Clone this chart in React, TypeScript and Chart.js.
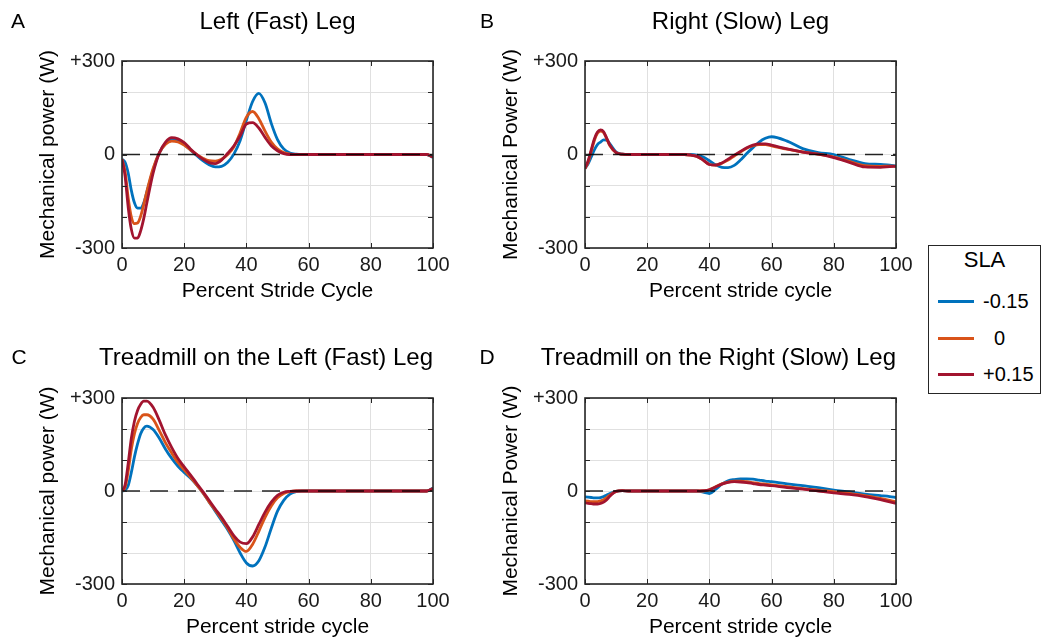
import React, { useEffect, useRef } from 'react';
import { Chart, registerables } from 'chart.js';

Chart.register(...registerables);

const FONT = '"Liberation Sans", Arial, Helvetica, sans-serif';

// Percent stride cycle sample positions
const STRIDE = [0, 1, 2, 3, 4, 5, 6, 7, 8, 10, 12, 14, 16, 18, 20, 22, 24, 26, 28, 30, 32, 34, 36, 38, 40, 42, 44, 46, 48, 50, 52, 54, 56, 58, 60, 65, 70, 75, 80, 85, 90, 95, 98, 100];

const SLA_LABELS = ['-0.15', '  0', '+0.15'];
const SLA_COLORS = ['#0072BD', '#D95319', '#A2142F'];

const X_TICKS = [0, 20, 40, 60, 80, 100];
const Y_TICKS = [-300, -200, -100, 0, 100, 200, 300];
const Y_TICK_LABELS = ['-300', '', '', '0', '', '', '+300'];
const ZERO_X = [0, 100];
const ZERO_Y = [0, 0];

// A: Left (Fast) Leg
const A_NEG = [-15, -25, -60, -115, -155, -172, -172, -155, -120, -50, 5, 35, 46, 44, 32, 15, -3, -20, -33, -40, -38, -25, 2, 45, 110, 170, 196, 165, 100, 48, 18, 5, 1, 0, 0, 0, 0, 0, 0, 0, 0, 0, 0, -10];
const A_ZERO = [-15, -55, -140, -200, -222, -220, -198, -160, -118, -45, 5, 33, 43, 40, 30, 15, 0, -12, -20, -21, -15, 0, 25, 70, 120, 138, 115, 75, 40, 18, 6, 1, 0, 0, 0, 0, 0, 0, 0, 0, 0, 0, 0, -8];
const A_POS = [-15, -70, -170, -240, -268, -268, -245, -205, -155, -60, 5, 40, 54, 50, 38, 18, 0, -15, -26, -29, -18, 4, 28, 60, 98, 102, 85, 55, 28, 12, 3, 0, 0, 0, 0, 0, 0, 0, 0, 0, 0, 0, 0, -8];

// B: Right (Slow) Leg
const B_NEG = [-45, -30, -8, 15, 32, 40, 47, 46, 34, 8, 1, 0, 0, 0, 0, 0, 0, 0, 0, 0, 0, 0, -2, -8, -20, -33, -41, -42, -35, -18, 3, 22, 40, 52, 57, 43, 19, 6, 0, -16, -29, -32, -34, -37];
const B_ZERO = [-45, -25, 10, 45, 68, 75, 70, 50, 28, 6, 1, 0, 0, 0, 0, 0, 0, 0, 0, 0, 0, -2, -6, -18, -32, -34, -28, -18, -5, 8, 20, 28, 32, 32, 28, 17, 8, 1, -8, -22, -36, -38, -37, -38];
const B_POS = [-45, -20, 15, 50, 72, 79, 73, 52, 30, 6, 1, 0, 0, 0, 0, 0, 0, 0, 0, 0, 0, -2, -6, -18, -32, -34, -27, -15, -2, 10, 22, 30, 34, 34, 30, 18, 8, 1, -10, -25, -40, -41, -39, -38];

// C: Treadmill on the Left (Fast) Leg
const C_NEG = [0, 3, 18, 60, 110, 152, 185, 203, 209, 198, 170, 135, 105, 80, 60, 42, 20, -5, -35, -65, -95, -125, -160, -200, -232, -242, -225, -180, -120, -65, -30, -10, -2, 0, 0, 0, 0, 0, 0, 0, 0, 0, 0, 10];
const C_ZERO = [0, 12, 65, 135, 185, 218, 237, 246, 246, 232, 195, 155, 122, 92, 68, 45, 20, -5, -35, -62, -90, -120, -155, -182, -195, -172, -130, -85, -48, -22, -8, -2, 0, 0, 0, 0, 0, 0, 0, 0, 0, 0, 0, 8];
const C_POS = [0, 20, 90, 170, 225, 260, 280, 290, 290, 270, 228, 180, 140, 105, 78, 52, 25, -2, -30, -58, -85, -115, -145, -165, -170, -148, -108, -68, -36, -14, -4, -1, 0, 0, 0, 0, 0, 0, 0, 0, 0, 0, 0, 8];

// D: Treadmill on the Right (Slow) Leg
const D_NEG = [-19, -20, -21, -22, -22, -21, -18, -13, -8, -1, 1, 0, 0, 0, 0, 0, 0, 0, 0, 0, 0, 0, 0, -4, -8, 5, 22, 33, 37, 39, 39, 38, 35, 32, 30, 23, 17, 11, 3, -3, -10, -15, -18, -21];
const D_ZERO = [-32, -33, -34, -34, -34, -32, -28, -21, -13, -1, 1, 0, 0, 0, 0, 0, 0, 0, 0, 0, 0, 0, 0, 0, 4, 14, 23, 29, 32, 32, 30, 27, 24, 22, 20, 14, 8, 3, -2, -8, -15, -24, -30, -35];
const D_POS = [-38, -40, -41, -42, -42, -40, -36, -28, -17, -1, 1, 0, 0, 0, 0, 0, 0, 0, 0, 0, 0, 0, 0, 1, 4, 13, 22, 28, 30, 29, 27, 24, 21, 19, 17, 11, 6, 0, -6, -11, -18, -28, -35, -40];

type PanelCfg = {
  letter: string;
  title: string;
  yTitle: string;
  xTitle: string;
  series: number[][];
  left: number;
  top: number;
  plotBottom: number;
  titleY: number;
  letterX: number;
  titleAlign: 'center' | 'end';
};

const PANELS: PanelCfg[] = [
  { letter: 'A', title: 'Left (Fast) Leg', yTitle: 'Mechanical power (W)', xTitle: 'Percent Stride Cycle', series: [A_NEG, A_ZERO, A_POS], left: 0, top: 0, plotBottom: 248, titleY: 22.5, letterX: 18, titleAlign: 'center' },
  { letter: 'B', title: 'Right (Slow) Leg', yTitle: 'Mechanical Power (W)', xTitle: 'Percent stride cycle', series: [B_NEG, B_ZERO, B_POS], left: 463, top: 0, plotBottom: 248, titleY: 22.5, letterX: 24, titleAlign: 'center' },
  { letter: 'C', title: 'Treadmill on the Left (Fast) Leg', yTitle: 'Mechanical power (W)', xTitle: 'Percent stride cycle', series: [C_NEG, C_ZERO, C_POS], left: 0, top: 337, plotBottom: 247, titleY: 21, letterX: 19, titleAlign: 'end' },
  { letter: 'D', title: 'Treadmill on the Right (Slow) Leg', yTitle: 'Mechanical Power (W)', xTitle: 'Percent stride cycle', series: [D_NEG, D_ZERO, D_POS], left: 463, top: 337, plotBottom: 247, titleY: 21, letterX: 24, titleAlign: 'end' },
];

const CANVAS_W = 470;
const PLOT_TOP = 61;
const PLOT_RIGHT = 433;
const PAD_LEFT = 30;
const X_AXIS_H = 56;
const TITLE_SIZE = 24;
const TICK_SIZE = 20;

const framePlugin = {
  id: 'matlabFrame',
  afterDraw(chart: any, _args: any, opts: any) {
    const { ctx, chartArea, scales } = chart;
    const { left, right, top, bottom } = chartArea;
    ctx.save();
    ctx.strokeStyle = '#262626';
    ctx.lineWidth = 1;
    const tl = 5;
    ctx.beginPath();
    X_TICKS.forEach((v) => {
      const px = Math.round(scales.x.getPixelForValue(v)) + 0.5;
      ctx.moveTo(px, bottom);
      ctx.lineTo(px, bottom - tl);
      ctx.moveTo(px, top);
      ctx.lineTo(px, top + tl);
    });
    Y_TICKS.forEach((v) => {
      const py = Math.round(scales.y.getPixelForValue(v)) + 0.5;
      ctx.moveTo(left, py);
      ctx.lineTo(left + tl, py);
      ctx.moveTo(right, py);
      ctx.lineTo(right - tl, py);
    });
    ctx.stroke();
    ctx.lineWidth = 1.6;
    ctx.strokeRect(left, top, right - left, bottom - top);
    ctx.fillStyle = '#000';
    ctx.font = `21px ${FONT}`;
    ctx.textAlign = 'center';
    ctx.textBaseline = 'middle';
    ctx.fillText(opts.letter, opts.x, opts.y);
    ctx.restore();
  },
};

function Panel({ cfg }: { cfg: PanelCfg }) {
  const ref = useRef<HTMLCanvasElement>(null);
  const H = cfg.plotBottom + X_AXIS_H;

  useEffect(() => {
    const lineH = TITLE_SIZE * 1.2;
    const tPadTop = cfg.titleY - lineH / 2;
    const tPadBottom = PLOT_TOP - tPadTop - lineH;
    const datasets: any[] = [
      {
        label: 'zero',
        data: ZERO_X.map((x, i) => ({ x, y: ZERO_Y[i] })),
        borderColor: 'rgba(0,0,0,0.85)',
        borderWidth: 1.4,
        borderDash: [18, 10],
        pointRadius: 0,
        order: 0,
      },
    ];
    cfg.series.forEach((s, i) => {
      datasets.push({
        label: SLA_LABELS[i],
        data: STRIDE.map((x, j) => ({ x, y: s[j] })),
        borderColor: SLA_COLORS[i],
        borderWidth: 2.8,
        pointRadius: 0,
        cubicInterpolationMode: 'monotone',
        borderJoinStyle: 'round',
        order: 3 - i,
      });
    });

    const chart = new Chart(ref.current!, {
      type: 'line',
      data: { datasets },
      options: {
        animation: false,
        responsive: false,
        events: [],
        layout: { padding: { left: PAD_LEFT, right: CANVAS_W - PLOT_RIGHT, top: 0, bottom: 0 } },
        plugins: {
          legend: { display: false },
          tooltip: { enabled: false },
          title: {
            display: true,
            text: cfg.title,
            fullSize: cfg.titleAlign === 'end',
            align: cfg.titleAlign,
            color: '#000',
            font: { family: FONT, size: TITLE_SIZE, weight: 'normal', lineHeight: 1.2 },
            padding: { top: tPadTop, bottom: tPadBottom },
          },
          matlabFrame: { letter: cfg.letter, x: cfg.letterX, y: cfg.titleY },
        } as any,
        scales: {
          x: {
            type: 'linear',
            min: 0,
            max: 100,
            ticks: {
              stepSize: 20,
              color: '#1a1a1a',
              font: { family: FONT, size: TICK_SIZE },
              padding: 5,
              maxRotation: 0,
            },
            grid: { color: '#e0e0e0', lineWidth: 1, drawTicks: false },
            border: { display: false },
            title: {
              display: true,
              text: cfg.xTitle,
              color: '#000',
              font: { family: FONT, size: 21 },
              padding: { top: 0, bottom: 0.4 },
            },
            afterFit: (s: any) => {
              s.height = X_AXIS_H;
            },
          },
          y: {
            type: 'linear',
            min: -300,
            max: 300,
            ticks: {
              stepSize: 100,
              autoSkip: false,
              color: '#1a1a1a',
              font: { family: FONT, size: TICK_SIZE },
              padding: 7,
              callback: (v: any) => {
                const idx = Y_TICKS.indexOf(Number(v));
                return idx >= 0 ? Y_TICK_LABELS[idx] : '';
              },
            },
            grid: { color: '#e0e0e0', lineWidth: 1, drawTicks: false },
            border: { display: false },
            title: {
              display: true,
              text: cfg.yTitle,
              color: '#000',
              font: { family: FONT, size: 21 },
              padding: { top: 5.4, bottom: 0 },
            },
            afterFit: (s: any) => {
              s.width = 122 - PAD_LEFT;
            },
          },
        },
      } as any,
      plugins: [framePlugin],
    });
    return () => chart.destroy();
  }, []);

  return (
    <canvas
      ref={ref}
      width={CANVAS_W}
      height={H}
      style={{ position: 'absolute', left: cfg.left, top: cfg.top, width: CANVAS_W, height: H }}
    />
  );
}

function Legend() {
  const rows = [55, 92, 128];
  return (
    <div
      style={{
        position: 'absolute',
        left: 928,
        top: 245,
        width: 111,
        height: 147,
        border: '1px solid #262626',
        background: '#fff',
        fontFamily: FONT,
        color: '#000',
      }}
    >
      <div style={{ position: 'absolute', left: 0, top: 1, width: '100%', height: 26, lineHeight: '26px', textAlign: 'center', fontSize: 22 }}>SLA</div>
      {SLA_LABELS.map((lab, i) => (
        <React.Fragment key={lab}>
          <div style={{ position: 'absolute', left: 9, top: rows[i] - 1.5, width: 36, height: 3, background: SLA_COLORS[i] }} />
          <div style={{ position: 'absolute', left: 54, top: rows[i] - 12, height: 24, lineHeight: '24px', fontSize: 20, whiteSpace: 'pre' }}>{lab}</div>
        </React.Fragment>
      ))}
    </div>
  );
}

export default function App() {
  return (
    <div style={{ position: 'fixed', left: 0, top: 0, width: 1041, height: 639, overflow: 'hidden', background: '#fff' }}>
      {PANELS.map((p) => (
        <Panel key={p.letter} cfg={p} />
      ))}
      <Legend />
    </div>
  );
}
